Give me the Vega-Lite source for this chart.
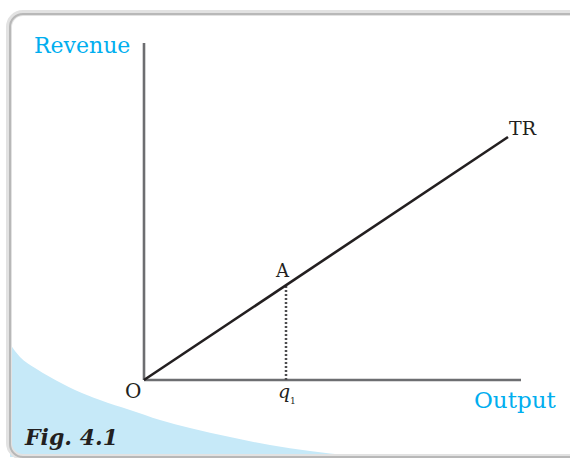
{
  "$schema": "https://vega.github.io/schema/vega-lite/v6.json",
  "width": 570,
  "height": 458,
  "padding": 0,
  "autosize": {"type": "fit", "contains": "padding"},
  "background": "white",
  "config": {"view": {"stroke": null}},
  "datasets": {
    "swoosh": [
      {"output": -13.4, "revenue": 3.6},
      {"output": -12.4, "revenue": 2.3},
      {"output": -10.9, "revenue": 1.2},
      {"output": -9.4, "revenue": 0.3},
      {"output": -6.9, "revenue": -1.0},
      {"output": -4.4, "revenue": -2.0},
      {"output": -1.4, "revenue": -3.0},
      {"output": 1.6, "revenue": -4.0},
      {"output": 4.6, "revenue": -4.8},
      {"output": 8.6, "revenue": -5.7},
      {"output": 12.6, "revenue": -6.5},
      {"output": 16.6, "revenue": -7.1},
      {"output": 20.6, "revenue": -7.55}
    ],
    "frame": [{"x": -13.5, "x2": 45, "y": 36.7, "y2": -7.7}],
    "axes": [
      {"name": "Revenue axis", "x": 0, "x2": 0, "y": 0, "y2": 33.7},
      {"name": "Output axis", "x": 0, "x2": 37.7, "y": 0, "y2": 0}
    ],
    "tr": [
      {"output": 0, "revenue": 0},
      {"output": 36.4, "revenue": 24.3}
    ],
    "drop": [{"output": 14.2, "revenue": 0, "revenue2": 9.45}],
    "blueLabels": [
      {"label": "Revenue", "x": -11.0, "y": 32.7, "size": 22},
      {"label": "Output", "x": 33.0, "y": -2.8, "size": 23}
    ],
    "blackLabels": [
      {"label": "O", "x": -1.9, "y": -1.8, "size": 20},
      {"label": "A", "x": 13.2, "y": 10.3, "size": 18},
      {"label": "TR", "x": 36.5, "y": 24.5, "size": 19}
    ],
    "q": [{"label": "q", "x": 13.4, "y": -1.8}],
    "sub": [{"label": "1", "x": 14.6, "y": -2.4}],
    "fig": [{"label": "Fig. 4.1", "x": -11.9, "y": -6.5}]
  },
  "layer": [
    {
      "data": {"name": "swoosh"},
      "mark": {"type": "area", "color": "#c6e9f8", "interpolate": "monotone", "opacity": 1, "clip": true},
      "encoding": {
        "x": {"field": "output", "type": "quantitative", "scale": {"domain": [-14.4, 42.6], "nice": false, "zero": false}, "axis": null},
        "y": {"field": "revenue", "type": "quantitative", "scale": {"domain": [-7.8, 38], "nice": false, "zero": false}, "axis": null},
        "y2": {"datum": -7.7}
      }
    },
    {
      "data": {"name": "frame"},
      "mark": {"type": "rect", "fill": null, "stroke": "#e2e2e2", "strokeWidth": 6, "cornerRadius": 14, "clip": true},
      "encoding": {
        "x": {"field": "x", "type": "quantitative"},
        "x2": {"field": "x2"},
        "y": {"field": "y", "type": "quantitative"},
        "y2": {"field": "y2"}
      }
    },
    {
      "data": {"name": "frame"},
      "mark": {"type": "rect", "fill": null, "stroke": "#b8b8b8", "strokeWidth": 2, "cornerRadius": 13, "xOffset": 1, "yOffset": 1, "clip": true},
      "encoding": {
        "x": {"field": "x", "type": "quantitative"},
        "x2": {"field": "x2"},
        "y": {"field": "y", "type": "quantitative"},
        "y2": {"field": "y2"}
      }
    },
    {
      "data": {"name": "axes"},
      "mark": {"type": "rule", "color": "#6d6e71", "strokeWidth": 2.6},
      "encoding": {
        "x": {"field": "x", "type": "quantitative"},
        "x2": {"field": "x2"},
        "y": {"field": "y", "type": "quantitative"},
        "y2": {"field": "y2"}
      }
    },
    {
      "data": {"name": "drop"},
      "mark": {"type": "rule", "color": "#4d4d4f", "strokeWidth": 2.5, "strokeDash": [2, 2]},
      "encoding": {
        "x": {"field": "output", "type": "quantitative"},
        "y": {"field": "revenue", "type": "quantitative"},
        "y2": {"field": "revenue2"}
      }
    },
    {
      "data": {"name": "tr"},
      "mark": {"type": "line", "color": "#231f20", "strokeWidth": 2.6},
      "encoding": {
        "x": {"field": "output", "type": "quantitative"},
        "y": {"field": "revenue", "type": "quantitative"}
      }
    },
    {
      "data": {"name": "blueLabels"},
      "mark": {"type": "text", "align": "left", "baseline": "alphabetic", "font": "DejaVu Serif", "color": "#00aeef"},
      "encoding": {
        "x": {"field": "x", "type": "quantitative"},
        "y": {"field": "y", "type": "quantitative"},
        "text": {"field": "label"},
        "size": {"field": "size", "type": "quantitative", "scale": null}
      }
    },
    {
      "data": {"name": "blackLabels"},
      "mark": {"type": "text", "align": "left", "baseline": "alphabetic", "font": "DejaVu Serif", "color": "#231f20"},
      "encoding": {
        "x": {"field": "x", "type": "quantitative"},
        "y": {"field": "y", "type": "quantitative"},
        "text": {"field": "label"},
        "size": {"field": "size", "type": "quantitative", "scale": null}
      }
    },
    {
      "data": {"name": "q"},
      "mark": {"type": "text", "align": "left", "baseline": "alphabetic", "font": "DejaVu Serif", "fontStyle": "italic", "fontSize": 19, "color": "#231f20"},
      "encoding": {
        "x": {"field": "x", "type": "quantitative"},
        "y": {"field": "y", "type": "quantitative"},
        "text": {"field": "label"}
      }
    },
    {
      "data": {"name": "sub"},
      "mark": {"type": "text", "align": "left", "baseline": "alphabetic", "font": "DejaVu Serif", "fontSize": 9, "color": "#231f20"},
      "encoding": {
        "x": {"field": "x", "type": "quantitative"},
        "y": {"field": "y", "type": "quantitative"},
        "text": {"field": "label"}
      }
    },
    {
      "data": {"name": "fig"},
      "mark": {"type": "text", "align": "left", "baseline": "alphabetic", "font": "DejaVu Serif", "fontStyle": "italic", "fontWeight": "bold", "fontSize": 22, "color": "#231f20"},
      "encoding": {
        "x": {"field": "x", "type": "quantitative"},
        "y": {"field": "y", "type": "quantitative"},
        "text": {"field": "label"}
      }
    }
  ]
}
